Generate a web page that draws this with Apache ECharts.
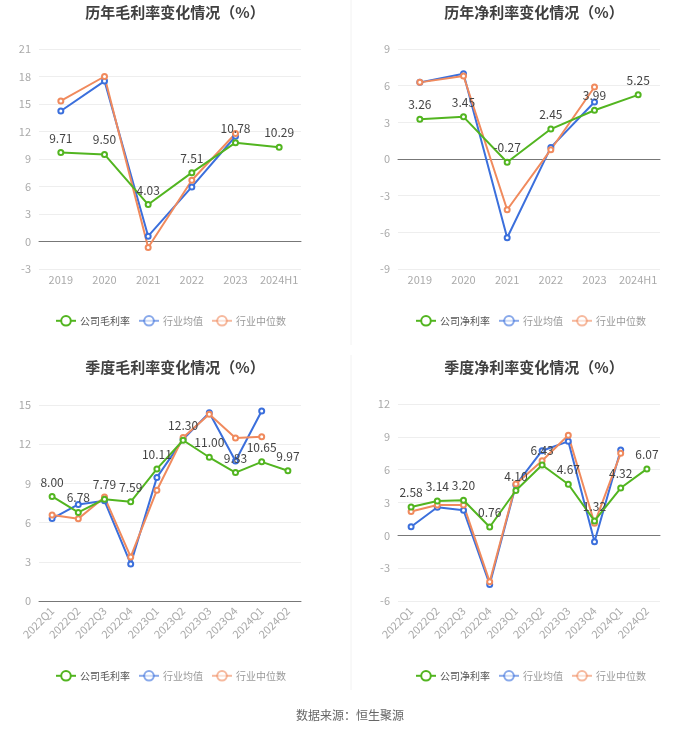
<!DOCTYPE html>
<html><head><meta charset="utf-8">
<script src="https://cdn.jsdelivr.net/npm/echarts@6/dist/echarts.min.js"></script>
<style>html,body{margin:0;padding:0;background:#fff}#c{width:700px;height:734px}</style>
</head><body><div id="c"></div>
<script>
const yearCats = ['2019','2020','2021','2022','2023','2024H1'];
const quarterCats = ['2022Q1','2022Q2','2022Q3','2022Q4','2023Q1','2023Q2','2023Q3','2023Q4','2024Q1','2024Q2'];

const annualGrossCompany = [9.71, 9.50, 4.03, 7.51, 10.78, 10.29];
const annualGrossMean = [14.24, 17.5, 0.58, 5.95, 11.48, null];
const annualGrossMedian = [15.33, 18.0, -0.65, 6.68, 11.78, null];

const annualNetCompany = [3.26, 3.45, -0.27, 2.45, 3.99, 5.25];
const annualNetMean = [6.27, 6.98, -6.44, 0.95, 4.66, null];
const annualNetMedian = [6.27, 6.79, -4.15, 0.76, 5.89, null];

const qGrossCompany = [8.00, 6.78, 7.79, 7.59, 10.11, 12.30, 11.00, 9.83, 10.65, 9.97];
const qGrossMean = [6.31, 7.39, 7.67, 2.84, 9.46, 12.37, 14.41, 10.71, 14.54, null];
const qGrossMedian = [6.59, 6.29, 7.95, 3.37, 8.48, 12.52, 14.29, 12.47, 12.57, null];

const qNetCompany = [2.58, 3.14, 3.20, 0.76, 4.10, 6.43, 4.67, 1.32, 4.32, 6.07];
const qNetMean = [0.79, 2.57, 2.29, -4.49, 4.61, 7.73, 8.59, -0.58, 7.79, null];
const qNetMedian = [2.17, 2.78, 2.78, -4.25, 4.68, 6.82, 9.14, 1.10, 7.49, null];

const titles = ['历年毛利率变化情况（%）','历年净利率变化情况（%）','季度毛利率变化情况（%）','季度净利率变化情况（%）'];
const companyNames = ['公司毛利率','公司净利率','公司毛利率','公司净利率'];
const yTicks = [[-3,21],[-9,9],[0,15],[-6,12]];

const GREEN = '#52b520', BLUE = '#3b6fdc', ORANGE = '#f08a5d';
const grids = [
  {left:39, top:49, width:262, height:220},
  {left:398, top:49, width:262, height:220},
  {left:39, top:405, width:262, height:196},
  {left:398, top:404, width:262, height:197}
];
const titlePos = [[170,0],[529,0],[170,355],[529,355]];
const legendPos = [[55,315],[415,315],[55,670],[415,670]];
const cats = [yearCats, yearCats, quarterCats, quarterCats];
const dataSets = [
  [annualGrossCompany, annualGrossMean, annualGrossMedian],
  [annualNetCompany, annualNetMean, annualNetMedian],
  [qGrossCompany, qGrossMean, qGrossMedian],
  [qNetCompany, qNetMean, qNetMedian]
];

const option = {
  animation:false,
  textStyle:{fontFamily:'"Noto Sans CJK SC","Noto Sans",sans-serif'},
  title:[], legend:[], grid:[], xAxis:[], yAxis:[], series:[],
  graphic:[
    {type:'line', shape:{x1:351,y1:0,x2:351,y2:345}, style:{stroke:'#f2f2f2', lineWidth:1}},
    {type:'line', shape:{x1:351,y1:355,x2:351,y2:690}, style:{stroke:'#f2f2f2', lineWidth:1}},
    {type:'text', left:'center', top:709, style:{text:'数据来源：恒生聚源', fill:'#666', font:'12px "Noto Sans CJK SC",sans-serif'}}
  ]
};

for (let i=0;i<4;i++){
  option.title.push({text:titles[i], left:titlePos[i][0], top:titlePos[i][1], textAlign:'center',
    textStyle:{fontSize:15, fontWeight:'bold', color:'#404040'}});
  option.grid.push(grids[i]);
  const quarterly = i>=2;
  option.xAxis.push({type:'category', gridIndex:i, data:cats[i],
    axisLine:{lineStyle:{color:'#777'}},
    axisTick:{alignWithLabel:true, lineStyle:{color:'#777'}},
    axisLabel:{color:'#aaa', fontSize:11, rotate:quarterly?45:0, margin:quarterly?8:5, interval:0}});
  option.yAxis.push({type:'value', gridIndex:i, min:yTicks[i][0], max:yTicks[i][1], interval:3,
    axisLine:{show:false}, axisTick:{show:false},
    axisLabel:{color:'#aaa', fontSize:11},
    splitLine:{lineStyle:{color:'#eeeeee'}}});
  const names = [companyNames[i], '行业均值', '行业中位数'];
  const colors = [GREEN, BLUE, ORANGE];
  option.legend.push({left:legendPos[i][0], top:legendPos[i][1], padding:0, itemWidth:20, itemHeight:12, itemGap:8,
    data:[
      {name:names[0], textStyle:{color:'#555'}},
      {name:names[1], textStyle:{color:'#999'}, itemStyle:{opacity:0.6}, lineStyle:{opacity:0.6}},
      {name:names[2], textStyle:{color:'#999'}, itemStyle:{opacity:0.6}, lineStyle:{opacity:0.6}}
    ],
    textStyle:{fontSize:10, padding:[0,0,0,-1]}});
  for (let s=0;s<3;s++){
    option.series.push({type:'line', name:names[s], xAxisIndex:i, yAxisIndex:i, data:dataSets[i][s],
      color:colors[s], symbol:'emptyCircle', symbolSize:5, lineStyle:{width:2, color:colors[s]},
      itemStyle:{color:colors[s]}, z: s===0?3:2,
      label: s===0 ? {show:true, position:'top', color:'#444', fontSize:12, formatter:p=>p.value.toFixed(2)} : {show:false}
    });
  }
}
const chart = echarts.init(document.getElementById('c'));
chart.setOption(option);
</script></body></html>
